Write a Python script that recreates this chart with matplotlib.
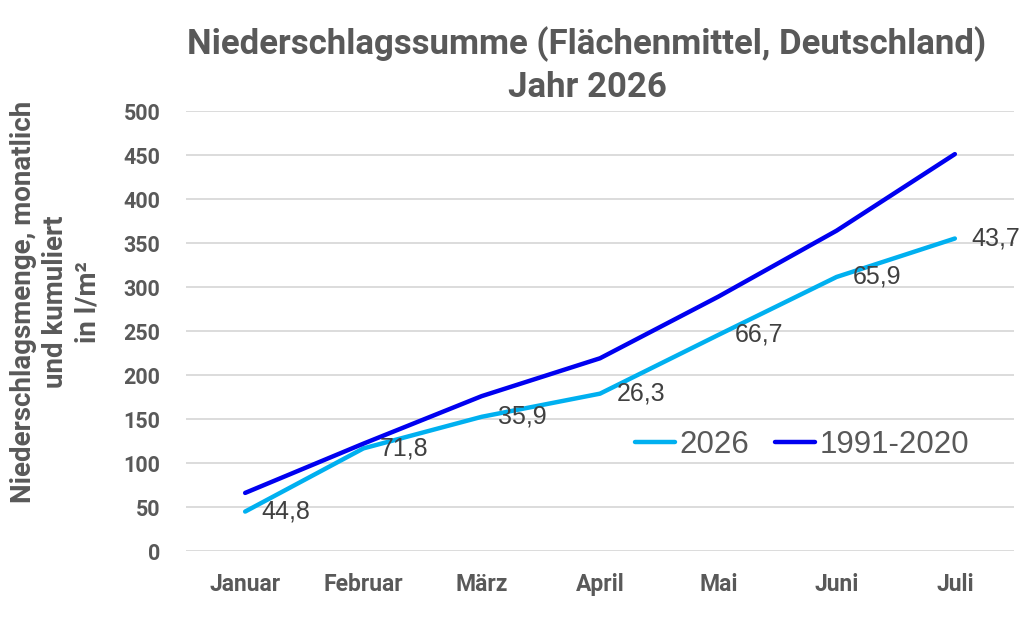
import matplotlib
matplotlib.use("Agg")
import matplotlib.pyplot as plt

months = ["Januar", "Februar", "März", "April", "Mai", "Juni", "Juli"]
monthly_2026 = [44.8, 71.8, 35.9, 26.3, 66.7, 65.9, 43.7]
cum_2026 = [44.8, 116.6, 152.5, 178.8, 245.5, 311.4, 355.1]
cum_ref = [66, 122, 176, 219, 289, 364, 451]
label_2026 = "2026"
label_ref = "1991-2020"
yticks = [0, 50, 100, 150, 200, 250, 300, 350, 400, 450, 500]

gray = "#595959"
fig = plt.figure(figsize=(10.24, 6.28), dpi=100)
ax = fig.add_axes([186/1024, 1-551/628, (1014-186)/1024, 440/628])

x = list(range(len(months)))
ax.plot(x, cum_2026, color="#00B0F0", lw=3.2, label=label_2026, solid_capstyle="round", zorder=3)
ax.plot(x, cum_ref, color="#0000F0", lw=3.2, label=label_ref, solid_capstyle="round", zorder=3)

for xi, yi, v in zip(x, cum_2026, monthly_2026):
    ax.annotate(f"{v:.1f}".replace(".", ","), (xi, yi), xytext=(12, 0), textcoords="offset points",
                ha="left", va="center", fontsize=18, color="#404040", family="Liberation Sans", zorder=4)

ax.set_xlim(-0.5, len(months) - 0.5)
ax.set_ylim(0, 500)
ax.set_yticks(yticks)
ax.set_xticks(x)
ax.set_xticklabels(months, fontsize=16.5, fontweight="bold", color=gray, family="Roboto")
ax.set_yticklabels([str(t) for t in yticks], fontsize=15.5, fontweight="bold", color=gray, family="Roboto")
ax.tick_params(axis="both", length=0)
ax.tick_params(axis="y", pad=18.5)
ax.tick_params(axis="x", pad=16)
ax.grid(axis="y", color="#D9D9D9", lw=1.3)
ax.set_axisbelow(True)
for s in ax.spines.values():
    s.set_visible(False)

leg = ax.legend(loc="center", bbox_to_anchor=((802-186)/828, (551-445)/440), ncol=2, frameon=False,
                prop={"family": "Liberation Sans", "size": 22.5}, handlelength=1.3, handletextpad=0.15,
                columnspacing=0.8)
for t in leg.get_texts():
    t.set_color(gray)

fig.text(587/1024, 1-65/628, "Niederschlagssumme (Flächenmittel, Deutschland)\nJahr 2026",
         ha="center", va="center", fontsize=25, fontweight="bold", color=gray, family="Roboto",
         linespacing=1.36)

fig.text(56/1024, 1-302/628, "Niederschlagsmenge, monatlich\nund kumuliert\nin l/m²",
         ha="center", va="center", rotation=90, fontsize=20, fontweight="bold", color=gray,
         family="Roboto", linespacing=1.25)

fig.savefig("out.png", dpi=100)
